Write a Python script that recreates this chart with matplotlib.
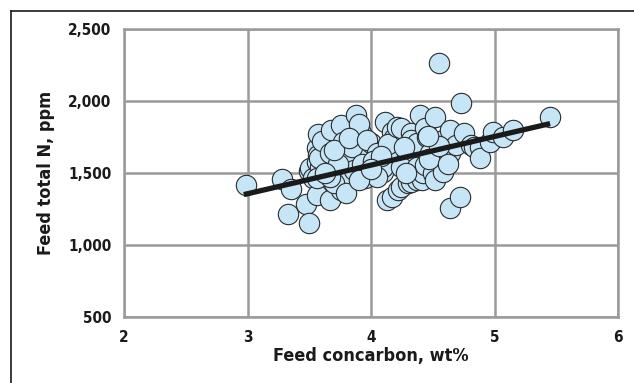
import matplotlib
matplotlib.use("Agg")
import matplotlib.pyplot as plt
from matplotlib.lines import Line2D
from matplotlib.ticker import FuncFormatter

# feed concarbon (wt%) and feed total nitrogen (ppm)
concarbon = [2.99, 3.28, 3.35, 3.33, 3.47, 3.50, 3.50, 3.51, 3.53, 3.56,
             3.56, 3.56, 3.57, 3.57, 3.59, 3.56, 3.58, 3.60, 3.68, 3.76,
             3.77, 3.67, 3.67, 3.76, 3.78, 3.70, 3.67, 3.80, 3.80, 3.86,
             3.95, 3.98, 4.00, 3.88, 3.92, 3.90, 3.85, 3.73, 3.63, 3.70,
             3.82, 3.93, 3.97, 4.05, 4.02, 4.11, 4.17, 4.15, 4.13, 4.17,
             4.22, 4.24, 4.10, 4.10, 4.18, 4.18, 4.19, 4.14, 4.08, 4.21,
             4.24, 4.32, 4.32, 4.29, 4.34, 4.24, 4.30, 4.32, 4.37, 4.37,
             4.37, 4.40, 4.41, 4.42, 4.44, 4.44, 4.45, 4.48, 4.50, 4.52,
             4.52, 4.55, 4.58, 4.58, 4.58, 4.64, 4.64, 4.64, 4.69, 4.72,
             4.73, 4.75, 4.81, 4.83, 4.88, 4.88, 4.96, 4.99, 5.07, 5.15,
             5.45, 4.27, 4.47, 4.55, 4.62, 4.28, 4.46, 4.05, 3.90, 4.00]
nitrogen = [1420, 1455, 1387, 1215, 1285, 1150, 1514, 1532, 1465, 1347,
            1576, 1674, 1770, 1625, 1544, 1463, 1602, 1720, 1799, 1833,
            1717, 1637, 1312, 1382, 1451, 1428, 1474, 1602, 1360, 1521,
            1463, 1637, 1708, 1903, 1776, 1840, 1680, 1560, 1500, 1660,
            1740, 1560, 1729, 1637, 1580, 1856, 1787, 1590, 1312, 1330,
            1382, 1405, 1509, 1544, 1683, 1660, 1741, 1700, 1620, 1822,
            1810, 1776, 1729, 1613, 1590, 1544, 1428, 1440, 1451, 1544,
            1706, 1903, 1451, 1498, 1810, 1556, 1752, 1637, 1498, 1451,
            1891, 2262, 1729, 1509, 1637, 1799, 1637, 1255, 1694, 1335,
            1984, 1776, 1694, 1683, 1683, 1602, 1717, 1787, 1752, 1799,
            1887, 1680, 1600, 1690, 1560, 1500, 1760, 1470, 1450, 1530]

# trend line end points
trend_x = [2.97, 5.45]
trend_y = [1350, 1843]

x_ticks = [2, 3, 4, 5, 6]
y_ticks = [500, 1000, 1500, 2000, 2500]

plt.rcParams["font.family"] = ["DejaVu Sans"]
plt.rcParams["font.stretch"] = "condensed"
plt.rcParams["font.weight"] = "bold"
plt.rcParams["axes.labelweight"] = "bold"

fig = plt.figure(figsize=(6.34, 3.83), dpi=100)
ax = fig.add_axes([124 / 634, 1 - 317 / 383, 494 / 634, 288 / 383])

ax.scatter(concarbon, nitrogen, s=215, facecolor="#c6e6f7", edgecolor="#2b2b2b",
           linewidth=0.8, zorder=3)
ax.plot(trend_x, trend_y, color="#1a1a1a", lw=3.8, solid_capstyle="butt", zorder=4)

ax.set_xlim(2, 6)
ax.set_ylim(500, 2500)
ax.set_xticks(x_ticks)
ax.set_yticks(y_ticks)
ax.yaxis.set_major_formatter(FuncFormatter(lambda v, p: f"{int(v):,}"))
ax.grid(True, color="#9a9a9a", lw=1.8)
ax.set_axisbelow(True)
for s in ax.spines.values():
    s.set_color("#9a9a9a")
    s.set_linewidth(1.8)
ax.tick_params(length=0, labelsize=11, pad=9, colors="#1a1a1a")

ax.set_xlabel("Feed concarbon, wt%", fontsize=13, color="#1a1a1a")
ax.set_ylabel("Feed total N, ppm", fontsize=13, color="#1a1a1a")
ax.xaxis.set_label_coords(0.5, -0.105)
ax.yaxis.set_label_coords(-0.14, 0.5)

# outer frame, only left and top edges are visible in the crop
fig.add_artist(Line2D([11 / 634, 11 / 634], [0, 1 - 11 / 383], color="#1a1a1a", lw=1.2))
fig.add_artist(Line2D([11 / 634, 1], [1 - 11 / 383, 1 - 11 / 383], color="#1a1a1a", lw=1.2))

plt.savefig("out.png", dpi=100)
